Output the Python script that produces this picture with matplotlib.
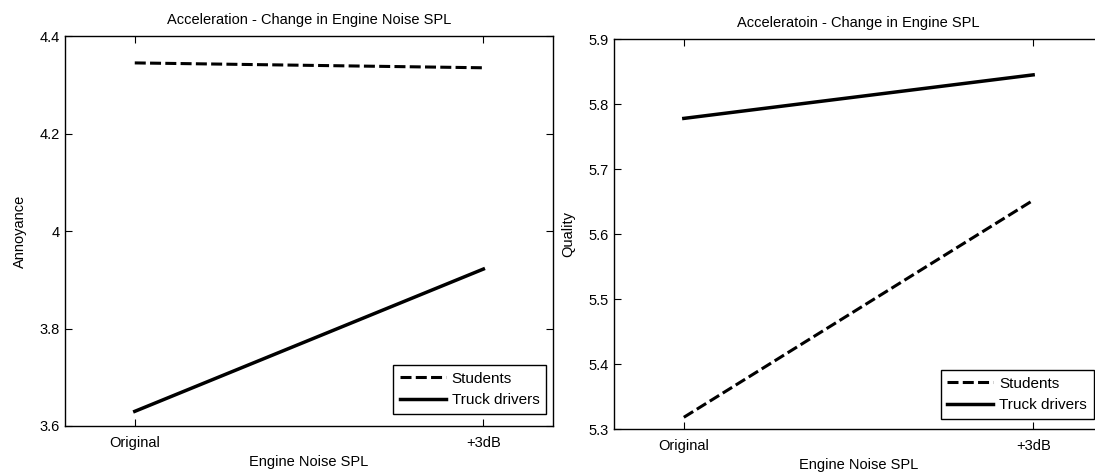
import matplotlib
matplotlib.use('Agg')
import matplotlib.pyplot as plt

plt.rcParams['font.family'] = ['Liberation Sans', 'DejaVu Sans']
plt.rcParams['font.size'] = 10.5

# Conditions on the x axis
condicoes = ['Original', '+3dB']
x = [1, 2]

# Annoyance ratings
anno_students = [4.345, 4.335]
anno_trucks = [3.630, 3.922]

# Quality ratings
qual_students = [5.318, 5.652]
qual_trucks = [5.778, 5.845]

fig = plt.figure(figsize=(10.95, 4.72), dpi=100)
ax1 = fig.add_axes([0.0594, 0.0975, 0.4457, 0.826])
ax2 = fig.add_axes([0.5607, 0.0911, 0.4466, 0.826])


def estilo(ax, titulo, ylabel, ylim, yticks, pad_leg):
    ax.set_xlim(0.8, 2.2)
    ax.set_ylim(*ylim)
    ax.set_xticks(x)
    ax.set_xticklabels(condicoes)
    ax.set_yticks(yticks)
    ax.set_yticklabels([('%g' % v) for v in yticks])
    ax.tick_params(direction='in', top=True, right=True, length=5, width=0.8)
    ax.tick_params(axis='x', pad=7)
    ax.tick_params(axis='y', pad=4)
    ax.set_title(titulo, fontsize=10.5, pad=9)
    ax.set_xlabel('Engine Noise SPL', labelpad=4)
    ax.set_ylabel(ylabel, labelpad=9)
    for s in ax.spines.values():
        s.set_linewidth(1.0)
    leg = ax.legend(loc='lower right', fancybox=False, edgecolor='black',
                    framealpha=1, bbox_to_anchor=pad_leg,
                    borderaxespad=0, handlelength=3.0, labelspacing=0.5,
                    borderpad=0.45, handletextpad=0.4, fontsize=11)
    leg.get_frame().set_linewidth(1.0)


# Annoyance plot
ax1.plot(x, anno_students, 'k--', lw=2.2, dashes=(3.6, 1.4), label='Students')
ax1.plot(x, anno_trucks, 'k-', lw=2.5, label='Truck drivers')
estilo(ax1, 'Acceleration - Change in Engine Noise SPL', 'Annoyance',
       (3.6, 4.4), [3.6, 3.8, 4.0, 4.2, 4.4], (0.986, 0.03))

# Quality plot
ax2.plot(x, qual_students, 'k--', lw=2.2, dashes=(3.6, 1.4), label='Students')
ax2.plot(x, qual_trucks, 'k-', lw=2.5, label='Truck drivers')
estilo(ax2, 'Acceleratoin - Change in Engine SPL', 'Quality',
       (5.3, 5.9), [5.3, 5.4, 5.5, 5.6, 5.7, 5.8, 5.9], (0.9816, 0.025))

fig.savefig('out.png', dpi=100)
